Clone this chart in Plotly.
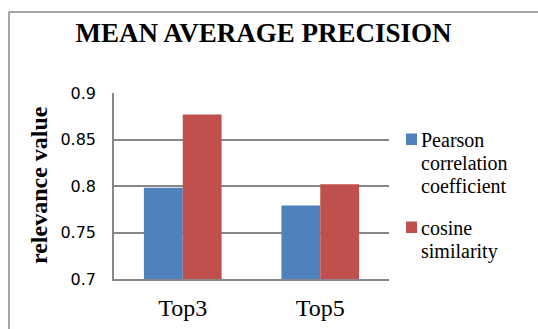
import plotly.graph_objects as go

# Data
categories = ["Top3", "Top5"]
series_names = ["Pearson correlation coefficient", "cosine similarity"]
pearson = [0.798, 0.779]
cosine = [0.877, 0.802]
series_values = [pearson, cosine]
series_colors = ["#4F81BD", "#C0504D"]
y_ticks = [0.7, 0.75, 0.8, 0.85, 0.9]

W, H = 538, 329
ML, MR, MT, MB = 114, 149, 93, 50
PW, PH = W - ML - MR, H - MT - MB


def px_x(p):
    return (p - ML) / PW


def px_y(p):
    return (H - MB - p) / PH


serif = "Liberation Serif"
grid = "#878787"

fig = go.Figure()
for name, vals, col in zip(series_names, series_values, series_colors):
    fig.add_trace(go.Bar(x=categories, y=vals, name=name, marker_color=col,
                         marker_line_width=0, showlegend=False))

fig.update_layout(
    width=W, height=H,
    margin=dict(l=ML, r=MR, t=MT, b=MB, pad=0, autoexpand=False),
    paper_bgcolor="white", plot_bgcolor="white",
    barmode="group", bargap=0.435, bargroupgap=0,
    title=dict(text="<b>MEAN AVERAGE PRECISION</b>", xref="container", x=263.5 / W,
               xanchor="center", yref="container", y=1 - 33 / H, yanchor="middle",
               font=dict(family=serif, size=27, color="black")),
    xaxis=dict(range=[-0.5, 1.5], showgrid=False, showline=True, linecolor=grid,
               linewidth=1.5, ticks="", ticklabelstandoff=6, automargin=False,
               tickfont=dict(family=serif, size=24, color="black")),
    yaxis=dict(range=[0.7, 0.9], tickvals=y_ticks, ticktext=[f"{v:g}" for v in y_ticks],
               showgrid=True, gridcolor=grid, gridwidth=1.5, showline=True,
               linecolor=grid, linewidth=1.5, ticks="", ticklabelstandoff=13,
               zeroline=False, automargin=False,
               tickfont=dict(family="DejaVu Sans", size=16, color="black")),
)

# Y axis title
fig.add_annotation(text="<b>relevance value</b>", textangle=-90, xref="paper", yref="paper",
                   x=px_x(39), y=px_y(185), xanchor="center", yanchor="middle",
                   showarrow=False, font=dict(family=serif, size=24, color="black"))

# Legend: colour swatch plus one word per line
legend_tops = [128, 216]
line_step = 23
for name, col, top in zip(series_names, series_colors, legend_tops):
    fig.add_shape(type="rect", xref="paper", yref="paper",
                  x0=px_x(406), x1=px_x(417), y0=px_y(top + 5.5), y1=px_y(top + 17),
                  fillcolor=col, line_width=0)
    for i, word in enumerate(name.split()):
        fig.add_annotation(text=word, xref="paper", yref="paper",
                           x=px_x(419), y=px_y(top + 12 + i * line_step),
                           xanchor="left", yanchor="middle", showarrow=False,
                           font=dict(family=serif, size=20, color="black"))

# Chart frame (left and top edges)
fig.add_shape(type="line", xref="paper", yref="paper", x0=px_x(9), x1=px_x(9),
              y0=px_y(12), y1=px_y(340), line=dict(color=grid, width=1.5))
fig.add_shape(type="line", xref="paper", yref="paper", x0=px_x(9), x1=px_x(560),
              y0=px_y(12), y1=px_y(12), line=dict(color=grid, width=1.5))

fig.write_html("out.html")
